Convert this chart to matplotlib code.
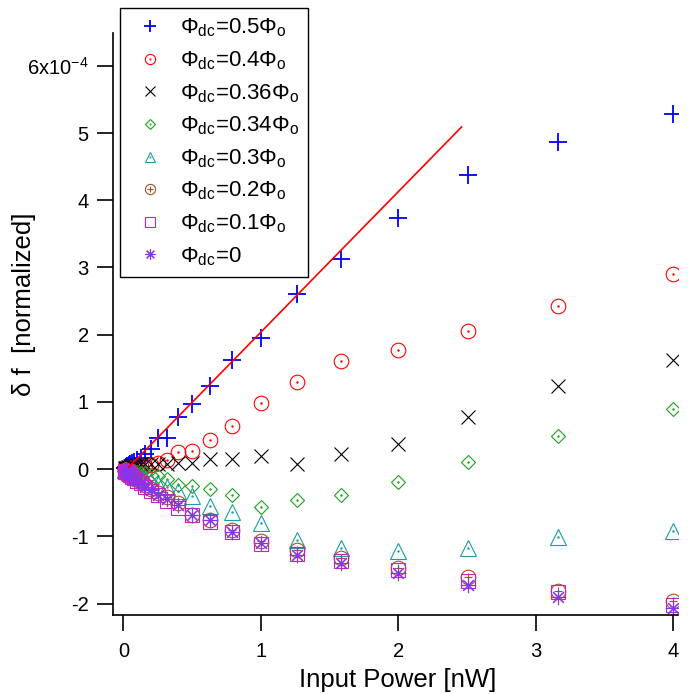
import numpy as np
import matplotlib
matplotlib.use("Agg")
import matplotlib.pyplot as plt
from matplotlib.legend_handler import HandlerTuple

plt.rcParams['font.family'] = ['Liberation Sans', 'DejaVu Sans']
plt.rcParams['mathtext.fontset'] = 'custom'
plt.rcParams['mathtext.rm'] = 'Liberation Sans'
plt.rcParams['mathtext.it'] = 'Liberation Sans:italic'
plt.rcParams['mathtext.bf'] = 'Liberation Sans:bold'

# ---------------- data (delta f in units of 1e-4) ----------------
power_nW = [4.0, 3.16, 2.51, 2.0, 1.585, 1.26, 1.0, 0.794, 0.631, 0.501, 0.398,
            0.316, 0.251, 0.2, 0.158, 0.126, 0.1, 0.079, 0.063, 0.05, 0.04,
            0.032, 0.025, 0.02, 0.016, 0.013, 0.01]

df_05 = [5.28, 4.86, 4.37, 3.73, 3.12, 2.61, 1.95, 1.63, 1.23, 0.97, 0.78,
         0.47, 0.47, 0.30, 0.22, 0.17, 0.14, 0.11, 0.09, 0.07, 0.06,
         0.05, 0.04, 0.03, 0.03, 0.02, 0.02]
df_04 = [2.91, 2.42, 2.06, 1.77, 1.61, 1.29, 0.99, 0.64, 0.44, 0.27, 0.25,
         0.13, 0.09, 0.06, 0.05, 0.04, 0.03, 0.03, 0.02, 0.02, 0.01,
         0.01, 0.01, 0.00, 0.00, 0.00, 0.00]
df_036 = [1.63, 1.24, 0.78, 0.38, 0.22, 0.08, 0.19, 0.15, 0.15, 0.09, 0.09,
          0.08, 0.08, 0.08, 0.07, 0.07, 0.06, 0.05, 0.05, 0.04, 0.03,
          0.03, 0.02, 0.02, 0.01, 0.01, 0.00]
df_034 = [0.90, 0.49, 0.11, -0.19, -0.39, -0.46, -0.56, -0.38, -0.29, -0.25, -0.24,
          -0.15, -0.10, -0.08, -0.06, -0.05, -0.04, -0.03, -0.03, -0.02, -0.02,
          -0.01, -0.01, -0.01, 0.00, 0.00, 0.00]
df_03 = [-0.92, -1.01, -1.18, -1.21, -1.18, -1.05, -0.80, -0.63, -0.55, -0.40, -0.33,
         -0.27, -0.22, -0.18, -0.15, -0.12, -0.10, -0.08, -0.06, -0.05, -0.04,
         -0.03, -0.03, -0.02, -0.02, -0.01, -0.01]
df_02 = [-1.96, -1.81, -1.61, -1.47, -1.32, -1.20, -1.07, -0.90, -0.75, -0.68, -0.50,
         -0.42, -0.35, -0.29, -0.24, -0.19, -0.15, -0.12, -0.10, -0.08, -0.06,
         -0.05, -0.04, -0.03, -0.02, -0.02, -0.01]
df_01 = [-2.02, -1.83, -1.67, -1.50, -1.37, -1.26, -1.11, -0.94, -0.78, -0.68, -0.58,
         -0.47, -0.39, -0.32, -0.26, -0.21, -0.17, -0.13, -0.11, -0.09, -0.07,
         -0.05, -0.04, -0.03, -0.03, -0.02, -0.02]
df_00 = [-2.06, -1.90, -1.72, -1.55, -1.40, -1.27, -1.10, -0.94, -0.75, -0.68, -0.53,
         -0.45, -0.38, -0.31, -0.26, -0.21, -0.17, -0.14, -0.11, -0.09, -0.07,
         -0.05, -0.04, -0.03, -0.03, -0.02, -0.02]

fit_x = [0.04, 2.46]
fit_y = [0.03, 5.09]

labels = [r'Φ$_{\rm dc}$=0.5Φ$_{\rm o}$', r'Φ$_{\rm dc}$=0.4Φ$_{\rm o}$',
          r'Φ$_{\rm dc}$=0.36Φ$_{\rm o}$', r'Φ$_{\rm dc}$=0.34Φ$_{\rm o}$',
          r'Φ$_{\rm dc}$=0.3Φ$_{\rm o}$', r'Φ$_{\rm dc}$=0.2Φ$_{\rm o}$',
          r'Φ$_{\rm dc}$=0.1Φ$_{\rm o}$', r'Φ$_{\rm dc}$=0']

y_ticks = [-2, -1, 0, 1, 2, 3, 4, 5, 6]
y_ticklabels = ['-2', '-1', '0', '1', '2', '3', '4', '5', r'6x10$^{-4}$']
x_ticks = [0, 1, 2, 3, 4]

SCALE = 1e-4

# ---------------- figure ----------------
fig = plt.figure(figsize=(6.93, 6.94), dpi=100)
W, H = 693, 694
ax = fig.add_axes([113 / W, (H - 614.5) / H, (678 - 113) / W, (614.5 - 33) / H])

x = np.array(power_nW)
def sc(v):
    return np.array(v) * SCALE

lw = 0.8
ms = 10.5
handles = []

h = ax.plot(x, sc(df_05), ls='none', marker='+', ms=12.5, mew=1.3, color='#0000ff')[0]
handles.append((h,))

c = '#ff0000'
h1 = ax.plot(x, sc(df_04), ls='none', marker='o', ms=ms, mfc='none', mew=lw, color=c)[0]
h2 = ax.plot(x, sc(df_04), ls='none', marker='.', ms=1.5, color=c)[0]
handles.append((h1, h2))

h = ax.plot(x, sc(df_036), ls='none', marker='x', ms=10, mew=lw, color='#000000')[0]
handles.append((h,))

c = '#1fa01f'
h1 = ax.plot(x, sc(df_034), ls='none', marker='D', ms=7.2, mfc='none', mew=lw, color=c)[0]
h2 = ax.plot(x, sc(df_034), ls='none', marker='.', ms=1.5, color=c)[0]
handles.append((h1, h2))

c = '#1a9e9e'
h1 = ax.plot(x, sc(df_03), ls='none', marker='^', ms=11, mfc='none', mew=lw, color=c)[0]
h2 = ax.plot(x, sc(df_03), ls='none', marker='.', ms=1.5, color=c)[0]
handles.append((h1, h2))

c = '#a0522d'
h1 = ax.plot(x, sc(df_02), ls='none', marker='o', ms=ms, mfc='none', mew=lw, color=c)[0]
h2 = ax.plot(x, sc(df_02), ls='none', marker='+', ms=6, mew=lw, color=c)[0]
handles.append((h1, h2))

h = ax.plot(x, sc(df_01), ls='none', marker='s', ms=10, mfc='none', mew=lw, color='#cc22bb')[0]
handles.append((h,))

h = ax.plot(x, sc(df_00), ls='none', marker=(8, 2, 0), ms=11, mew=lw, color='#8833ee')[0]
handles.append((h,))

ax.plot(fit_x, sc(fit_y), color='#ff0000', lw=1.2)

# axes styling
ax.set_xlim(-0.075, 4.034)
ax.set_ylim(-2.162 * SCALE, 6.488 * SCALE)
for s in ['top', 'right']:
    ax.spines[s].set_visible(False)
for s in ['left', 'bottom']:
    ax.spines[s].set_linewidth(1.2)
ax.set_xticks(x_ticks)
ax.set_xticklabels([str(t) for t in x_ticks])
ax.set_yticks([t * SCALE for t in y_ticks])
ax.set_yticklabels(y_ticklabels)
ax.tick_params(direction='out', length=11.5, width=1.2, labelsize=14.5, pad=6)
ax.tick_params(axis='x', pad=8)

ax.set_xlabel('Input Power [nW]', fontsize=18.5, va='center')
ax.xaxis.set_label_coords((397.5 - 113) / (678 - 113), (614.5 - 680) / (614.5 - 33))
ax.set_ylabel('δ f  [normalized]', fontsize=18.5, va='center')
ax.yaxis.set_label_coords((24 - 113) / (678 - 113), (614.5 - 304) / (614.5 - 33))

leg = fig.legend(handles, labels, loc='upper left',
                 bbox_to_anchor=(120 / W, 1 - 8 / H), bbox_transform=fig.transFigure,
                 handler_map={tuple: HandlerTuple(ndivide=1, pad=0)},
                 fontsize=16, frameon=True, fancybox=False, framealpha=1,
                 edgecolor='black', borderpad=0.4, handlelength=1.9,
                 handletextpad=0.4, labelspacing=0.45,
                 markerscale=0.7, borderaxespad=0)
leg.get_frame().set_linewidth(1.0)

fig.savefig('out.png', dpi=100)
